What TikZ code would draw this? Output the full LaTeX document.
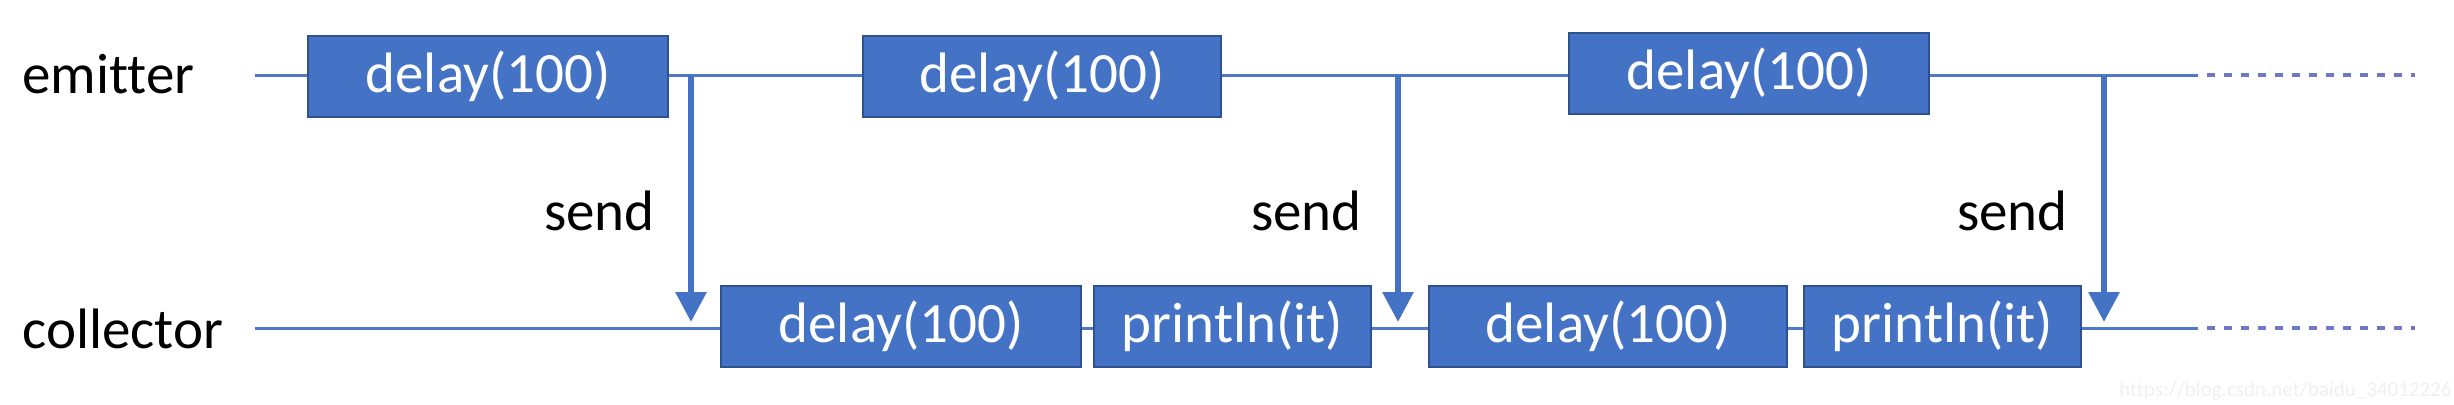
\documentclass[tikz,border=0pt]{standalone}
\usepackage{fontspec}
\setmainfont{Carlito}[Ligatures=NoCommon]
\usetikzlibrary{arrows.meta}
\definecolor{boxblue}{HTML}{4472C4}
\definecolor{boxedge}{HTML}{2F528F}
\definecolor{lineblue}{HTML}{4F78C6}
\definecolor{dashblue}{HTML}{7078C4}
\begin{document}
\begin{tikzpicture}[x=0.5pt,y=-0.5pt,
  tl/.style={line width=1.5pt, draw=lineblue},
  dl/.style={line width=1.7pt, draw=dashblue, dash pattern=on 4pt off 4.5pt},
  longbox/.style={draw=boxedge, fill=boxblue, line width=1pt, text=white, minimum width=180pt, minimum height=40.5pt, inner sep=0pt, font=\fontsize{28.5}{30}\selectfont},
  shortbox/.style={longbox, minimum width=138.5pt},
  lbl/.style={font=\fontsize{28.5}{30}\selectfont, inner sep=0pt, text=black},
  sendarrow/.style={line width=3pt, draw=boxblue, -{Triangle[width=15pt,length=15pt]}}]
\useasboundingbox (0,0) rectangle (2454,404);
\fill[white] (0,0) rectangle (2454,404);
% time lines
\coordinate (e0) at (255,75);
\coordinate (e1) at (2198,75);
\coordinate (e1d) at (2207,75);
\coordinate (e2) at (2415,75);
\coordinate (c0) at (255,328);
\coordinate (c1) at (2198,328);
\coordinate (c1d) at (2207,328);
\coordinate (c2) at (2415,328);
\draw[tl] (e0) -- (e1);
\draw[dl] (e1d) -- (e2);
\draw[tl] (c0) -- (c1);
\draw[dl] (c1d) -- (c2);
% labels
\node[lbl, anchor=base west] (em) at (22,93) {emitter};
\node[lbl, anchor=base west] (co) at (22,348) {collector};
% emitter boxes
\node[longbox] (E1) at (488,76.5) {delay(100)};
\node[longbox, minimum width=179pt] (E2) at (1042,76.5) {delay(100)};
\node[longbox] (E3) at (1749,73.5) {delay(100)};
% collector boxes
\node[longbox] (C1) at (901,326.5) {delay(100)};
\node[shortbox] (C2) at (1232.5,326.5) {println(it)};
\node[longbox, minimum width=179pt] (C3) at (1608,326.5) {delay(100)};
\node[shortbox] (C4) at (1942.5,326.5) {println(it)};
% send arrows
\coordinate (s1) at (691,75);
\coordinate (r1) at (691,322);
\coordinate (s2) at (1398,75);
\coordinate (r2) at (1398,322);
\coordinate (s3) at (2104,75);
\coordinate (r3) at (2104,322);
\draw[sendarrow] (s1) -- (r1);
\draw[sendarrow] (s2) -- (r2);
\draw[sendarrow] (s3) -- (r3);
\node[lbl, anchor=base east] (sd1) at (655,230) {send};
\node[lbl, anchor=base east] (sd2) at (1362,230) {send};
\node[lbl, anchor=base east] (sd3) at (2068,230) {send};
% watermark
\node[anchor=base east, text=black!6, font=\fontsize{10.5}{12}\selectfont, inner sep=0pt] (wm) at (2452,396) {https://blog.csdn.net/baidu\_34012226};
\end{tikzpicture}
\end{document}
